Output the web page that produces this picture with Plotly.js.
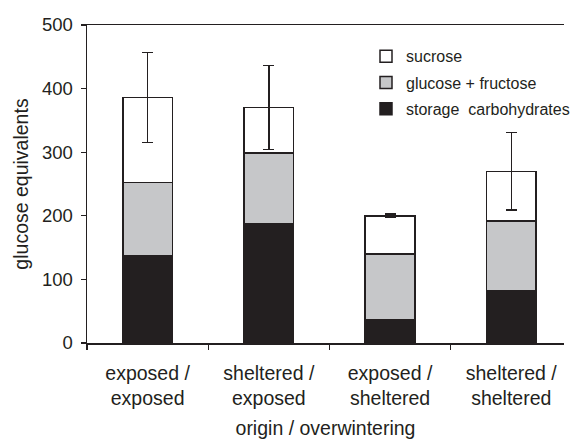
<!DOCTYPE html>
<html>
<head>
<meta charset="utf-8">
<script src="https://cdn.plot.ly/plotly-3.0.1.min.js"></script>
<style>html,body{margin:0;padding:0;background:#fff;}#chart{width:575px;height:439px;}</style>
</head>
<body>
<div id="chart"></div>
<script>
var categories = ["exposed /<br>exposed", "sheltered /<br>exposed", "exposed /<br>sheltered", "sheltered /<br>sheltered"];
var storageCarbohydrates = [137, 187, 36, 82];
var glucoseFructose = [115, 112, 104, 110];
var sucrose = [134, 71, 60, 78];
var sucroseErrorTotal = [71, 66, 3, 61];
var yTicks = [0, 100, 200, 300, 400, 500];

var dark = "#231f20";
var lineStyle = {color: dark, width: 1.5};

var traces = [
  {type: "bar", name: "storage  carbohydrates", x: categories, y: storageCarbohydrates,
   marker: {color: dark, line: lineStyle}, width: 0.41, legendgroup: "c", legendrank: 3},
  {type: "bar", name: "glucose + fructose", x: categories, y: glucoseFructose,
   marker: {color: "#c6c7c9", line: lineStyle}, width: 0.41, legendgroup: "b", legendrank: 2},
  {type: "bar", name: "sucrose", x: categories, y: sucrose,
   marker: {color: "#ffffff", line: lineStyle}, width: 0.41, legendgroup: "a", legendrank: 1,
   error_y: {type: "data", array: sucroseErrorTotal, visible: true, color: dark, thickness: 1.5, width: 5.5}}
];

var font = {family: "Liberation Sans, Arial, sans-serif", color: dark};

var layout = {
  width: 575, height: 439,
  margin: {l: 87, r: 0, t: 25, b: 96},
  paper_bgcolor: "#fff", plot_bgcolor: "#fff",
  barmode: "stack",
  showlegend: true,
  font: font,
  legend: {x: 0.585, y: 0.955, xanchor: "left", yanchor: "top", traceorder: "grouped",
    tracegroupgap: 2.5, bgcolor: "rgba(0,0,0,0)", itemwidth: 30,
    font: {family: font.family, size: 16, color: dark}},
  xaxis: {type: "category", range: [-0.5, 3.435], showline: true, linecolor: dark, linewidth: 1.5,
    mirror: true, ticks: "outside", tickson: "boundaries", ticklen: 5, tickcolor: dark, tickwidth: 1.2,
    showgrid: false, zeroline: false, tickfont: {size: 19.5, family: font.family, color: dark},
    ticklabelstandoff: 12,
    title: {text: "origin / overwintering", font: {size: 19.5, family: font.family, color: dark}, standoff: 21}},
  yaxis: {range: [0, 500], tickvals: yTicks, showline: true, linecolor: dark, linewidth: 1.5,
    ticks: "outside", ticklen: 5, tickcolor: dark, tickwidth: 1.2, showgrid: false, zeroline: false,
    tickfont: {size: 18.5, family: font.family, color: dark}, ticklabelstandoff: 4,
    title: {text: "glucose equivalents", font: {size: 19.5, family: font.family, color: dark}, standoff: 8}}
};

Plotly.newPlot("chart", traces, layout, {displayModeBar: false, staticPlot: true});
</script>
</body>
</html>
